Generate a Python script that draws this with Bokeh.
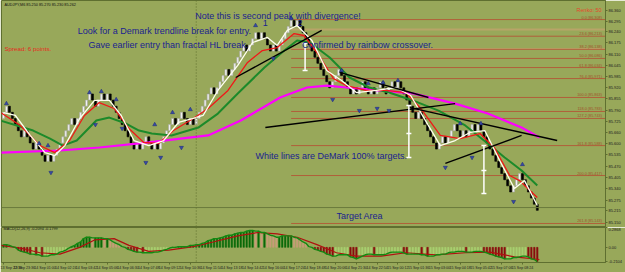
import numpy as np
from bokeh.plotting import figure
from bokeh.models import (Range1d, FixedTicker, PrintfTickFormatter, Span, Label,
                          ColumnDataSource)
from bokeh.layouts import column
from bokeh.embed import file_html
from bokeh.resources import INLINE
from bokeh.core.properties import value

# ---------------- data ----------------
TITLE = "AUDJPY,M6 85.250 85.270 85.230 85.262"
MACD_TITLE = "MACD(12,26,9) -0.2094 -0.1799"
BRICK = 0.035
START_PRICE = 85.743
# renko brick runs (+ up bricks, - down bricks)
RUNS = [2, -5, 1, -3, 1, -3, 1, -1, 7, -1, 5, -2, 2, -1, 1, -9, 1, -1, 2, -2, 1, -1,
        5, -1, 2, -2, 1, -1, 6, -1, 4, -1, 5, -1, 3, -1, 1, -3, 1, -1, 5, -1, 1, -11,
        3, -4, 1, -1, 2, -2, 1, -1, 2, -2, 2, -1, 1, -6, 1, -6, 2, -1, 3, -2, 1, -1,
        2, -1, 1, -11, 3, -6]

WHITE_X = [0, 4, 9, 14, 17.3, 20.7, 25.7, 30.7, 35.7, 39.7, 44, 49, 54, 59, 64, 67.3, 72.3,
           79, 84, 89, 92.3, 95.7, 99, 104, 109, 114, 119, 125.7, 132.3, 137.3, 142.3,
           147.3, 152.3, 157.3, 162.3, 167.3, 172.3, 175.7, 180]
WHITE_Y = [85.777, 85.760, 85.646, 85.548, 85.531, 85.588, 85.743, 85.846, 85.846, 85.760,
           85.617, 85.588, 85.617, 85.720, 85.743, 85.760, 85.903, 86.046, 86.177, 86.206,
           86.160, 86.246, 86.274, 86.188, 86.017, 85.960, 85.891, 85.903, 85.920, 85.874,
           85.731, 85.588, 85.617, 85.663, 85.674, 85.503, 85.343, 85.388, 85.246]
RED_X = [-1, 5.7, 12.3, 17.3, 22.3, 27.3, 32.3, 37.3, 42.3, 47.3, 52.3, 57.3, 64, 69, 75.7,
         82.3, 87.3, 92.3, 98, 101.3, 105.7, 111.3, 115.7, 122.3, 129, 135.7, 140.7, 147.3,
         154, 160.7, 165.7, 170.7, 174, 180]
RED_Y = [85.777, 85.703, 85.588, 85.548, 85.617, 85.760, 85.834, 85.800, 85.686, 85.606,
         85.600, 85.674, 85.743, 85.800, 85.903, 86.063, 86.131, 86.148, 86.228, 86.217,
         86.120, 85.971, 85.931, 85.903, 85.903, 85.891, 85.800, 85.646, 85.628, 85.657,
         85.571, 85.417, 85.388, 85.291]
GREEN_X = [-1, 10, 15.7, 20, 24.7, 31.3, 35.7, 41.3, 45.7, 50, 56.7, 65.7, 72.3, 79, 88,
           94.7, 99, 103.3, 110, 116.7, 123.3, 130, 138, 146.7, 155.7, 163.3, 169, 174.7, 180]
GREEN_Y = [85.731, 85.674, 85.628, 85.588, 85.617, 85.731, 85.748, 85.714, 85.674, 85.657,
           85.646, 85.691, 85.771, 85.886, 86.034, 86.131, 86.188, 86.177, 86.091, 85.977,
           85.920, 85.891, 85.846, 85.788, 85.703, 85.600, 85.520, 85.446, 85.360]
MAG_X = [-1, 19, 32.3, 49, 69, 80, 93.3, 102.3, 109, 115.7, 126.7, 138, 152.3, 163.3, 174.7, 180.7]
MAG_Y = [85.548, 85.560, 85.577, 85.606, 85.646, 85.731, 85.863, 85.920, 85.931, 85.920,
         85.903, 85.886, 85.828, 85.771, 85.691, 85.634]

# DeMark trend lines
TL_X0 = [78.3, 113.3, 88.3, 136.7, 149]
TL_Y0 = [85.977, 86.006, 85.691, 85.806, 85.486]
TL_X1 = [107.3, 143.3, 152.3, 186.7, 174.7]
TL_Y1 = [86.246, 85.863, 85.828, 85.617, 85.646]

# fractals
UP_X = [1, 12, 15, 29, 33, 38, 51, 57, 63, 85, 97, 114, 123, 128, 133, 154, 161, 175]
UP_Y = [85.828, 85.600, 85.588, 85.891, 85.897, 85.851, 85.708, 85.777, 85.794, 86.274,
        86.314, 86.017, 85.943, 85.948, 85.960, 85.714, 85.714, 85.480]
DN_X = [16, 31, 40, 48, 53, 60, 91, 111, 120, 126, 130, 149, 158, 172]
DN_Y = [85.434, 85.708, 85.686, 85.491, 85.520, 85.577, 86.086, 85.851, 85.788, 85.800,
        85.788, 85.463, 85.520, 85.268]

# DeMark 100% target lines
TGT_X = [101.7, 136.7, 162.0]
TGT_TOP = [86.171, 85.817, 85.588]
TGT_BOT = [86.017, 85.520, 85.314]
TGT_MID_X = [136.7, 162.0]
TGT_MID_Y = [85.657, 85.446]

# Fibonacci levels
FIB_START = 97
FIB_LEVELS = [0.0, 23.6, 38.2, 50.0, 61.8, 76.4, 100.0, 118.0, 127.2, 161.8, 200.0, 261.8]
FIB_PRICES = [86.308, 86.213, 86.138, 86.086, 86.034, 85.971, 85.863, 85.783, 85.743,
              85.588, 85.417, 85.143]
KHAKI_PRICES = [86.251, 86.140]

BID = 85.234
PRICE_TICKS = [86.360, 86.295, 86.240, 86.175, 86.110, 86.045, 85.985, 85.920, 85.855,
               85.790, 85.725, 85.660, 85.600, 85.535, 85.470, 85.405, 85.340, 85.275,
               85.215, 85.150]
SEPARATOR_BAR = 65

MACD_VALUES = [
    0.04, 0.04, 0.03, 0.01, 0.00, -0.04, -0.06, -0.07, -0.08, -0.10,
    -0.10, -0.11, -0.11, -0.13, -0.13, -0.13, -0.11, -0.11, -0.10, -0.07,
    -0.06, -0.04, -0.01, 0.01, 0.03, 0.06, 0.08, 0.13, 0.15, 0.15,
    0.14, 0.14, 0.14, 0.14, 0.13, 0.13, 0.11, 0.08, 0.06, 0.04,
    0.01, 0.00, -0.03, -0.04, -0.06, -0.07, -0.07, -0.08, -0.08, -0.08,
    -0.08, -0.07, -0.07, -0.06, -0.04, -0.03, -0.01, 0.00, 0.00, 0.01,
    0.01, 0.01, 0.01, 0.03, 0.03, 0.04, 0.04, 0.06, 0.07, 0.10,
    0.11, 0.13, 0.13, 0.14, 0.15, 0.17, 0.18, 0.18, 0.20, 0.21,
    0.22, 0.22, 0.24, 0.25, 0.25, 0.24, 0.24, 0.22, 0.22, 0.20,
    0.18, 0.17, 0.15, 0.15, 0.17, 0.17, 0.17, 0.17, 0.15, 0.14,
    0.11, 0.08, 0.06, 0.01, 0.00, -0.03, -0.04, -0.06, -0.07, -0.10,
    -0.11, -0.13, -0.13, -0.11, -0.11, -0.11, -0.11, -0.14, -0.15, -0.17,
    -0.15, -0.13, -0.11, -0.10, -0.10, -0.11, -0.11, -0.11, -0.11, -0.10,
    -0.08, -0.07, -0.07, -0.07, -0.07, -0.08, -0.10, -0.10, -0.10, -0.10,
    -0.10, -0.11, -0.11, -0.13, -0.13, -0.13, -0.11, -0.11, -0.10, -0.10,
    -0.08, -0.07, -0.07, -0.06, -0.06, -0.06, -0.07, -0.07, -0.07, -0.06,
    -0.06, -0.06, -0.07, -0.08, -0.10, -0.11, -0.13, -0.14, -0.15, -0.17,
    -0.17, -0.17, -0.15, -0.15, -0.14, -0.13, -0.13, -0.14, -0.17, -0.18,
    -0.21]
SIGNAL_X = [-1, 5.7, 12.3, 19, 25.7, 30.7, 37.3, 42.3, 49, 55.7, 64, 70.7, 79, 85.7, 92.3,
            99, 105.7, 112.3, 119, 127.3, 135.7, 145.7, 155.7, 164, 172.3, 180.7]
SIGNAL_Y = [0.03, -0.01, -0.08, -0.10, 0.00, 0.11, 0.13, 0.03, -0.06, -0.04, 0.01, 0.08,
            0.17, 0.22, 0.20, 0.15, 0.04, -0.08, -0.13, -0.13, -0.08, -0.11, -0.08, -0.07,
            -0.14, -0.18]
MACD_TICKS = [0.2868, 0.0, -0.2104]
DATE_TICKS = [0, 7, 14, 21, 28, 35, 42, 49, 56, 63, 70, 77, 84, 91, 98, 105, 112, 119,
              126, 133, 140, 147, 154, 161, 168, 175]
DATE_LABELS = ["13 Sep 22:18", "13 Sep 23:36", "14 Sep 01:00", "14 Sep 02:24", "14 Sep 03:42",
               "14 Sep 05:06", "14 Sep 06:30", "14 Sep 07:48", "14 Sep 09:12", "14 Sep 10:36",
               "14 Sep 11:54", "14 Sep 13:18", "14 Sep 14:42", "14 Sep 16:00", "14 Sep 17:24",
               "14 Sep 18:48", "14 Sep 20:06", "14 Sep 21:30", "14 Sep 22:54", "15 Sep 00:12",
               "15 Sep 01:36", "15 Sep 03:00", "15 Sep 04:18", "15 Sep 05:42", "15 Sep 07:06",
               "15 Sep 08:24"]

# ---------------- styling ----------------
BG = "#98A85A"
FRAME = "#5F6F30"
NAVY = "#1B2390"
FONT = "Liberation Sans"
X0, X1 = -0.67, 203.0
Y0, Y1 = 85.120, 86.417

# decode renko bricks
opens, closes = [], []
p_ = START_PRICE
for r in RUNS:
    s = 1 if r > 0 else -1
    for _ in range(abs(r)):
        opens.append(p_)
        p_ = p_ + s * BRICK
        closes.append(p_)
n = len(closes)
idx = list(range(n))
up = [c > o for o, c in zip(opens, closes)]
bars = ColumnDataSource(dict(
    x=idx, bottom=[min(o, c) for o, c in zip(opens, closes)],
    top=[max(o, c) for o, c in zip(opens, closes)],
    fill=["#F4F4F4" if u else "#000000" for u in up],
    line=["#A8A8A8" if u else "#000000" for u in up]))


def style(fig):
    fig.background_fill_color = BG
    fig.border_fill_color = BG
    fig.outline_line_color = FRAME
    fig.outline_line_width = 1
    fig.xgrid.visible = False
    fig.ygrid.visible = False


p1 = figure(width=625, height=227, x_range=Range1d(X0, X1), y_range=Range1d(Y0, Y1),
            x_axis_location=None, y_axis_location="right", output_backend="svg",
            toolbar_location=None, min_border_left=1, min_border_right=17,
            min_border_top=0, min_border_bottom=0)
style(p1)
ax = p1.yaxis[0]
ax.ticker = FixedTicker(ticks=PRICE_TICKS)
ax.formatter = PrintfTickFormatter(format="%.3f")
ax.major_label_text_font_size = "4px"
ax.major_label_text_font = FONT
ax.major_label_text_color = "#202020"
ax.major_label_standoff = 1
ax.major_tick_out = 2
ax.major_tick_in = 0
ax.minor_tick_line_color = None
ax.axis_line_color = FRAME
ax.major_tick_line_color = FRAME

# fib lines
for pr in KHAKI_PRICES:
    p1.segment(x0=FIB_START, y0=pr, x1=X1, y1=pr, line_color="#B8A468", line_width=2)
fib_src = ColumnDataSource(dict(
    y=FIB_PRICES,
    label=[f"{l:.1f} ({pr:.3f})" for l, pr in zip(FIB_LEVELS, FIB_PRICES)]))
p1.segment(x0=FIB_START, y0="y", x1=X1, y1="y", source=fib_src, line_color="#B0603A",
           line_width=1)
p1.text(x=X1 - 1.2, y="y", text="label", source=fib_src, text_align="right",
        text_baseline="bottom", text_font=value(FONT), text_font_size="3.8px",
        text_color="#A0502A")

p1.add_layout(Span(location=BID, dimension="width", line_color="#6A7A3C", line_width=1))
p1.add_layout(Span(location=SEPARATOR_BAR, dimension="height", line_color=FRAME,
                   line_dash="1 2", line_width=1))

# renko bars
p1.vbar(x="x", bottom="bottom", top="top", width=0.66, fill_color="fill",
        line_color="line", line_width=0.6, source=bars)

# moving averages
p1.line(MAG_X, MAG_Y, line_color="#FF00FF", line_width=2.2)
p1.line(GREEN_X, GREEN_Y, line_color="#1C8A2A", line_width=2)
p1.line(RED_X, RED_Y, line_color="#F01818", line_width=1.3)
p1.line(WHITE_X, WHITE_Y, line_color="#FFFFF0", line_width=1.3)

# DeMark trend lines
p1.segment(x0=TL_X0, y0=TL_Y0, x1=TL_X1, y1=TL_Y1, line_color="#000000", line_width=1.4)

# target lines
p1.segment(x0=TGT_X, y0=TGT_BOT, x1=TGT_X, y1=TGT_TOP, line_color="#FFFFFF", line_width=1.5)
p1.scatter(TGT_X, TGT_TOP, marker="dash", size=5, line_color="#FFFFFF", line_width=1.5)
p1.scatter(TGT_X, TGT_BOT, marker="dash", size=5, line_color="#FFFFFF", line_width=1.5)
p1.scatter(TGT_MID_X, TGT_MID_Y, marker="dash", size=5, line_color="#FFFFFF", line_width=1.5)

# fractals
p1.scatter(UP_X, UP_Y, marker="triangle", size=4, fill_color="#3848A8", line_color="#22307A",
           line_width=0.6)
p1.scatter(DN_X, DN_Y, marker="inverted_triangle", size=4, fill_color="#3848A8",
           line_color="#22307A", line_width=0.6)


def note(fig, x, y, text, size="9px", color=NAVY, align="left"):
    fig.add_layout(Label(x=x, y=y, text=text, text_font=FONT, text_font_size=size,
                         text_color=color, text_align=align, text_baseline="middle"))


note(p1, 64.67, 86.331, "Note this is second peak with divergence!")
note(p1, 25.0, 86.240, "Look for a Demark trendline break for entry.")
note(p1, 28.67, 86.160, "Gave earlier entry than fractal HL break.")
note(p1, 100.67, 86.160, "Confirmed by rainbow crossover.")
note(p1, 88.3, 86.286, "1", align="center")
note(p1, 100.0, 86.291, "2", align="center")
note(p1, 85.0, 85.531, "White lines are DeMark 100% targets.")
note(p1, 112.3, 85.183, "Target Area")
note(p1, 0.33, 86.143, "Spread: 6 points.", size="6.2px", color="#E42A1E")
note(p1, 201.7, 86.360, "Renko: 50", size="5.5px", color="#E2482A", align="right")
note(p1, 0.33, 86.393, TITLE, size="3.8px", color="#101010")
p1.add_layout(Label(x=X1, y=BID, text=f"{BID:.3f}", x_offset=1, text_font=FONT,
                    text_font_size="4px", text_color="#FFFFFF", text_baseline="middle",
                    background_fill_color="#000000"))

# ---------------- MACD pane ----------------
p2 = figure(width=625, height=45, x_range=p1.x_range, y_range=Range1d(-0.224, 0.294),
            y_axis_location="right", output_backend="svg", toolbar_location=None,
            min_border_left=1, min_border_right=17, min_border_top=0, min_border_bottom=0)
style(p2)
cols = []
for i, v in enumerate(MACD_VALUES):
    prev = MACD_VALUES[i - 1] if i > 0 else v
    rising = v >= prev
    if v >= 0:
        cols.append("#0A6A0A" if rising else "#C89C78")
    else:
        cols.append("#A8D070" if rising else "#8A0E0E")
p2.vbar(x=list(range(len(MACD_VALUES))), top=MACD_VALUES, bottom=0, width=0.5,
        fill_color=cols, line_color=cols, line_width=0.5)
p2.line(SIGNAL_X, SIGNAL_Y, line_color="#B01010", line_width=1.2)
p2.line(list(range(len(MACD_VALUES))), MACD_VALUES, line_color="#128A12", line_width=1.4)
p2.add_layout(Span(location=SEPARATOR_BAR, dimension="height", line_color=FRAME,
                   line_dash="1 2", line_width=1))
p2.add_layout(Label(x=0, y=0.27, text=MACD_TITLE, text_font=FONT, text_font_size="3.8px",
                    text_color="#101010", text_baseline="middle"))

ay = p2.yaxis[0]
ay.ticker = FixedTicker(ticks=MACD_TICKS)
ay.major_label_overrides = {0.0: "0.00"}
ay.formatter = PrintfTickFormatter(format="%.4f")
ay.major_label_text_font_size = "4px"
ay.major_label_text_font = FONT
ay.major_label_text_color = "#202020"
ay.major_label_standoff = 1
ay.major_tick_out = 2
ay.major_tick_in = 0
ay.minor_tick_line_color = None
ay.axis_line_color = FRAME
ay.major_tick_line_color = FRAME

axx = p2.xaxis[0]
axx.ticker = FixedTicker(ticks=DATE_TICKS)
axx.major_label_overrides = {t: lab for t, lab in zip(DATE_TICKS, DATE_LABELS)}
axx.major_label_text_font_size = "3.6px"
axx.major_label_text_font = FONT
axx.major_label_text_color = "#202020"
axx.major_label_text_align = "left"
axx.major_label_standoff = 1
axx.major_tick_out = 2
axx.major_tick_in = 0
axx.minor_tick_line_color = None
axx.axis_line_color = FRAME
axx.major_tick_line_color = FRAME

layout = column(p1, p2, spacing=0)
open("out.html", "w").write(file_html(layout, INLINE))
